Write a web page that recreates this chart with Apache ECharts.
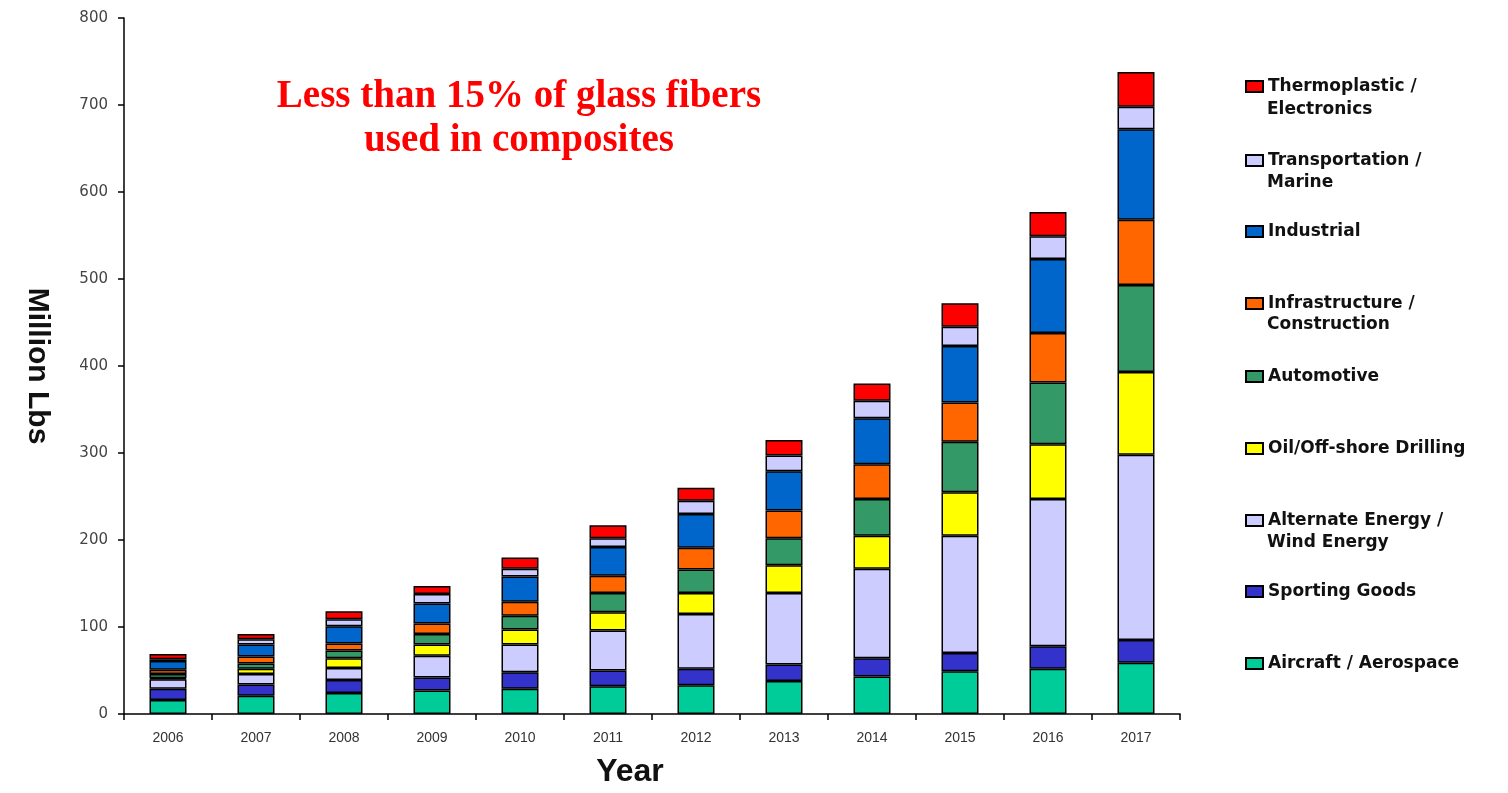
<!DOCTYPE html>
<html>
<head>
<meta charset="utf-8">
<script src="https://cdn.jsdelivr.net/npm/echarts@6/dist/echarts.min.js"></script>
<style>html,body{margin:0;padding:0;background:#fff;}#c{width:1508px;height:793px;}</style>
</head>
<body>
<div id="c"></div>
<script>
const years = ['2006','2007','2008','2009','2010','2011','2012','2013','2014','2015','2016','2017'];
const yTicks = [0,100,200,300,400,500,600,700,800];
const seriesNames = ['Aircraft / Aerospace','Sporting Goods','Alternate Energy / Wind Energy','Oil/Off-shore Drilling','Automotive','Infrastructure / Construction','Industrial','Transportation / Marine','Thermoplastic / Electronics'];
const aircraft    = [16,21,24,27,29,32,33,38,43,49,52,59];
const sporting    = [13,13,15,15,19,18,19,19,21,21,26,26];
const altEnergy   = [11,12,14,25,32,46,63,82,103,135,169,213];
const oil         = [1,6,11,13,17,21,24,32,38,50,63,95];
const automotive  = [5,6,9,12,16,22,27,31,42,58,71,100];
const infra       = [5,8,8,12,16,20,25,32,40,45,57,75];
const industrial  = [10,14,20,23,29,33,39,45,53,65,85,104];
const transport   = [2,6,8,11,9,10,15,18,20,22,26,26];
const thermo      = [6,6,9,9,13,15,15,18,20,27,28,40];
const colors = ['#00CC99','#3333CC','#CCCCFF','#FFFF00','#339966','#FF6600','#0066CC','#CCCCFF','#FF0000'];
const values = [aircraft,sporting,altEnergy,oil,automotive,infra,industrial,transport,thermo];

const legendOrder = [8,7,6,5,4,3,2,1,0];
const legendTops = [73,147,218,290,363,435,507,578,650];
const secondLineY = {8:112,7:185,5:327,2:545};

const chart = echarts.init(document.getElementById('c'));
const legends = legendOrder.map((si,k)=>({
  data:[seriesNames[si]],
  orient:'vertical',
  left:1240, top:legendTops[k],
  itemWidth:17, itemHeight:11, itemGap:0,
  icon:'rect',
  selectedMode:false,
  formatter: n => (secondLineY[si] !== undefined) ? n.split(' / ')[0] + ' /' : n,
  textStyle:{fontFamily:'DejaVu Sans',fontWeight:'bold',fontSize:17,color:'#111'}
}));
const graphics = Object.keys(secondLineY).map(si=>({
  type:'text', left:1267, top:secondLineY[si]-11,
  style:{text:seriesNames[si].split(' / ')[1], font:'bold 17px "DejaVu Sans"', fill:'#111'}
}));

chart.setOption({
  animation:false,
  backgroundColor:'#fff',
  title:{
    text:'Less than 15% of glass fibers\nused in composites',
    left:514, top:70, textAlign:'center',
    textStyle:{fontFamily:'"Liberation Serif", "Times New Roman", serif',fontWeight:'bold',fontSize:39,lineHeight:44,color:'#FF0000'}
  },
  legend:legends,
  graphic:graphics,
  grid:{left:124,right:328,top:18,bottom:75,containLabel:false},
  xAxis:{
    type:'category', data:years,
    name:'Year', nameLocation:'middle', nameGap:42,
    nameTextStyle:{fontFamily:'"Liberation Sans", Arial, sans-serif',fontWeight:'bold',fontSize:32,color:'#111',padding:[0,44,0,0]},
    axisLine:{lineStyle:{color:'#000',width:1.5}},
    axisTick:{show:true,alignWithLabel:false,length:6,lineStyle:{color:'#000',width:1.5}},
    axisLabel:{fontFamily:'"Liberation Sans Narrow", "Liberation Sans", sans-serif',fontSize:14,color:'#333',margin:17}
  },
  yAxis:{
    type:'value', min:0, max:800, interval:100,
    name:'Million Lbs', nameLocation:'middle', nameRotate:-90, nameGap:72,
    nameTextStyle:{fontFamily:'"Liberation Sans", Arial, sans-serif',fontWeight:'bold',fontSize:30,color:'#111'},
    axisLine:{show:true,lineStyle:{color:'#000',width:1.5}},
    axisTick:{show:true,length:6,lineStyle:{color:'#000',width:1.5}},
    splitLine:{show:false},
    axisLabel:{fontFamily:'"DejaVu Sans", sans-serif',fontSize:15,color:'#444',margin:16,
      formatter:v=> yTicks.indexOf(v)>=0 ? String(v) : ''}
  },
  series: values.map((arr,i)=>({
    name:seriesNames[i], type:'bar', stack:'total', barWidth:37,
    data:arr,
    itemStyle:{color:colors[i],borderColor:'#000',borderWidth:1.5}
  }))
});
</script>
</body>
</html>
